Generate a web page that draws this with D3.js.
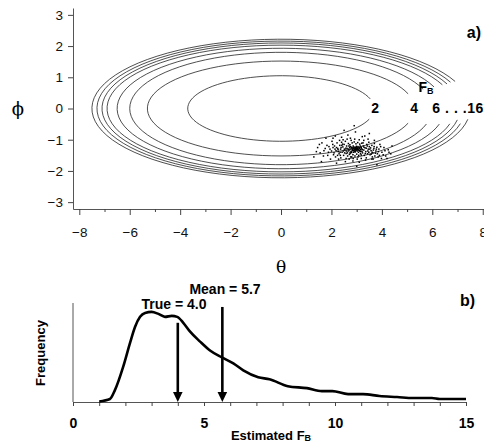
<!DOCTYPE html>
<html>
<head>
<meta charset="utf-8">
<script src="https://cdn.jsdelivr.net/npm/d3@7"></script>
<style>
  body { margin: 0; background: #fff; }
  svg { display: block; }
</style>
</head>
<body>
<div class="chart"></div>
<script>
// panel a) contour levels of F_B and their ellipse half-widths
var contourLevels = [2, 4, 6, 8, 10, 12, 14, 16];
var contourA = [3.7, 5.3, 6.0, 6.5, 6.9, 7.1, 7.3, 7.5];   // theta half-width
var contourB = [1.05, 1.52, 1.8, 1.93, 2.03, 2.1, 2.16, 2.22]; // phi half-height
var gapUpper = [17, 18, 20, 21, 22, 22, 23, 23]; // degrees, upper branch stops
var gapLower = [16, 15, 14, 12, 11, 10, 10, 9];  // degrees, lower branch starts

// scatter of estimates (theta, phi)
var scatterPts = [
  [2.62,-1.28],[2.70,-1.33],[2.75,-1.22],[2.78,-1.37],[2.81,-1.27],[2.84,-1.31],[2.86,-1.20],[2.88,-1.35],
  [2.90,-1.26],[2.92,-1.30],[2.94,-1.39],[2.96,-1.24],[2.98,-1.32],[3.00,-1.28],[3.02,-1.36],[3.05,-1.22],
  [3.08,-1.30],[3.10,-1.34],[3.13,-1.26],[3.16,-1.38],[3.19,-1.29],[2.66,-1.36],[2.72,-1.25],[2.80,-1.41],
  [2.87,-1.29],[2.91,-1.33],[2.95,-1.28],[2.99,-1.21],[3.03,-1.31],[3.07,-1.40],[3.11,-1.27],[3.15,-1.32],
  [2.68,-1.30],[2.77,-1.30],[2.83,-1.35],[2.89,-1.23],[2.93,-1.37],[2.97,-1.34],[3.01,-1.25],[3.06,-1.33],
  [3.12,-1.36],[3.18,-1.24],[2.74,-1.40],[2.85,-1.25],[2.95,-1.31],[3.04,-1.28],[2.79,-1.24],[2.88,-1.40],
  [3.09,-1.25],[3.22,-1.31],
  [2.12,-1.20],[2.18,-1.35],[2.22,-1.10],[2.25,-1.28],[2.30,-1.45],[2.33,-1.18],[2.36,-1.30],[2.40,-1.08],
  [2.42,-1.40],[2.45,-1.23],[2.48,-1.50],[2.50,-1.15],[2.53,-1.33],[2.55,-1.05],[2.58,-1.44],[2.60,-1.20],
  [2.64,-1.52],[2.67,-1.12],[2.71,-1.47],[2.73,-1.16],[2.76,-1.55],[2.82,-1.10],[2.85,-1.48],[2.90,-1.07],
  [2.93,-1.52],[2.97,-1.13],[3.00,-1.46],[3.04,-1.09],[3.08,-1.50],[3.12,-1.14],[3.15,-1.45],[3.20,-1.11],
  [3.23,-1.42],[3.26,-1.20],[3.30,-1.50],[3.33,-1.26],[3.36,-1.38],[3.40,-1.15],[3.43,-1.45],[3.46,-1.30],
  [3.50,-1.22],[3.53,-1.48],[3.57,-1.35],[3.60,-1.18],[3.64,-1.42],[3.68,-1.28],[3.72,-1.52],[3.76,-1.36],
  [3.80,-1.24],[2.27,-1.38],[2.38,-1.25],[2.47,-1.36],[2.57,-1.27],[2.63,-1.42],[3.28,-1.33],[3.38,-1.27],
  [3.48,-1.40],[3.55,-1.26],[3.66,-1.33],[3.74,-1.43],[2.20,-1.25],[2.52,-1.42],[3.18,-1.49],[3.42,-1.20],
  [2.44,-1.14],[3.58,-1.46],[2.35,-1.50],[3.05,-1.55],[2.80,-1.55],[3.25,-1.10],
  [1.45,-1.25],[1.55,-1.42],[1.62,-1.10],[1.70,-1.35],[1.78,-0.95],[1.85,-1.50],[1.90,-1.22],[1.96,-1.62],
  [2.02,-1.05],[2.08,-1.48],[2.15,-0.88],[2.28,-1.62],[2.40,-0.92],[2.55,-1.70],[2.65,-0.85],[2.85,-1.68],
  [2.95,-0.75],[3.10,-1.72],[3.22,-0.90],[3.35,-1.65],[3.45,-0.98],[3.60,-1.62],[3.70,-1.02],[3.85,-1.55],
  [3.92,-1.15],[4.00,-1.40],[4.08,-1.25],[4.15,-1.52],[4.25,-1.32],[4.35,-1.45],[2.90,-0.55],[2.50,-0.70],
  [1.30,-1.55],[3.00,-1.85],[2.20,-1.75],[3.80,-1.80],[4.40,-1.20],[1.60,-1.70],[2.75,-0.95],[3.50,-0.80],
  [1.75,-1.28],[1.82,-1.18],[1.88,-1.40],[1.94,-1.30],[2.00,-1.36],[2.05,-1.15],[2.10,-1.42],[2.14,-1.30],
  [2.24,-1.50],[2.32,-1.02],[2.37,-1.58],[2.46,-1.00],[2.58,-1.60],[2.62,-0.98],[2.70,-1.62],[2.78,-1.02],
  [2.86,-1.60],[2.92,-0.98],[3.02,-1.62],[3.10,-1.00],[3.18,-1.60],[3.28,-1.02],[3.38,-1.58],[3.48,-1.08],
  [3.62,-1.55],[3.70,-1.12],[3.82,-1.45],[3.88,-1.30],[3.95,-1.22],[4.05,-1.48],[4.12,-1.35],[4.20,-1.60],
  [4.28,-1.40],[3.98,-1.60],[3.65,-1.62],[1.68,-1.52],[1.52,-1.15],[1.40,-1.38],[2.06,-0.95],[3.32,-0.88],
  [2.26,-1.32],[2.34,-1.40],[2.41,-1.18],[2.51,-1.30],[2.59,-1.36],[2.69,-1.20],[2.74,-1.44],[3.14,-1.20],
  [3.21,-1.37],[3.29,-1.24],[3.34,-1.44],[3.44,-1.36],[3.52,-1.30],[3.61,-1.40],[3.69,-1.22],[3.78,-1.30],
  [3.86,-1.38],[2.16,-1.55],[3.90,-1.50],[2.06,-1.25]
];

// panel b) frequency of estimated F_B
var densX = [1.0, 1.41, 1.6, 1.92, 2.18, 2.37, 2.56, 2.75, 3.0, 3.26, 3.51, 3.77, 3.98, 4.21, 4.47, 4.85,
  5.23, 5.68, 6.12, 6.5, 7.07, 7.5, 8.2, 8.93, 9.5, 9.9, 10.5, 11.07, 11.7, 12.37, 12.98, 13.7, 14.0, 15.0];
var densY = [0.005, 0.03, 0.12, 0.36, 0.6, 0.76, 0.86, 0.9, 0.91, 0.89, 0.86, 0.87, 0.86, 0.8, 0.71, 0.61,
  0.52, 0.45, 0.39, 0.32, 0.25, 0.23, 0.16, 0.14, 0.11, 0.11, 0.08, 0.08, 0.06, 0.05, 0.04, 0.04, 0.03, 0.03];

var markerNames = ["True = 4.0", "Mean = 5.7"];
var markerValues = [4.0, 5.7];
var markerTops = [0.8, 0.96];

var thetaTicks = [-8, -6, -4, -2, 0, 2, 4, 6, 8];
var phiTicks = [-3, -2, -1, 0, 1, 2, 3];
var fbTicks = [0, 5, 10, 15];

var width = 484, height = 441;
var svg = d3.select(".chart").append("svg")
  .attr("width", width).attr("height", height)
  .style("font-family", "'Liberation Sans', Arial, sans-serif");

// ---------- panel a ----------
var x = d3.scaleLinear().domain([-8.25, 8.05]).range([73, 484]);
var y = d3.scaleLinear().domain([-3.22, 3.22]).range([209, 8]);

var gA = svg.append("g");

// axes
var yAxis = gA.append("g").attr("transform", "translate(73,0)")
  .call(d3.axisLeft(y).tickValues(phiTicks).tickSize(5).tickPadding(5).tickSizeOuter(0)
    .tickFormat(d3.format("d")));
var xAxis = gA.append("g").attr("transform", "translate(0,209)")
  .call(d3.axisBottom(x).tickValues(d3.range(-8, 9, 1)).tickSize(6).tickPadding(12).tickSizeOuter(0)
    .tickFormat(d => thetaTicks.includes(d) ? d3.format("d")(d) : ""));
xAxis.selectAll(".tick").filter(d => !thetaTicks.includes(d)).select("line").attr("y2", 3);
[yAxis, xAxis].forEach(function (ax) {
  ax.select(".domain").attr("stroke", "#555");
  ax.selectAll(".tick line").attr("stroke", "#444");
  ax.selectAll("text").attr("font-size", 13.5).attr("fill", "#111");
});

// contours
var line = d3.line().x(d => x(d[0])).y(d => y(d[1]));
contourLevels.forEach(function (lv, i) {
  var pts = d3.range(gapUpper[i], 360 - gapLower[i] + 0.1, 4).map(function (deg) {
    var t = deg * Math.PI / 180;
    return [contourA[i] * Math.cos(t), contourB[i] * Math.sin(t)];
  });
  gA.append("path").attr("d", line(pts))
    .attr("fill", "none").attr("stroke", "#222").attr("stroke-width", 0.8);
});

// scatter
gA.selectAll(".pt").data(scatterPts).enter().append("rect")
  .attr("class", "pt")
  .attr("x", d => x(d[0]) - 0.7).attr("y", d => y(d[1]) - 0.7)
  .attr("width", 1.5).attr("height", 1.5).attr("fill", "#000");

// contour labels
var lab = gA.append("g").attr("font-weight", "bold").attr("font-size", 14).attr("fill", "#000");
lab.append("text").attr("x", x(3.73)).attr("y", y(0)).attr("dy", "0.35em")
  .attr("text-anchor", "middle").text(contourLevels[0]);
lab.append("text").attr("x", x(5.28)).attr("y", y(0)).attr("dy", "0.35em")
  .attr("text-anchor", "middle").text(contourLevels[1]);
lab.append("text").attr("x", x(6.0)).attr("y", y(0)).attr("dy", "0.35em")
  .attr("textLength", 51).text(contourLevels[2] + " . . ." + contourLevels[7]);
var fb = lab.append("text").attr("x", x(5.45)).attr("y", y(0.52));
fb.append("tspan").text("F");
fb.append("tspan").attr("font-size", 9).attr("dy", 2).text("B");

gA.append("text").attr("x", 481).attr("y", 38).attr("text-anchor", "end")
  .attr("font-weight", "bold").attr("font-size", 16).text("a)");
gA.append("text").attr("x", 281).attr("y", 273).attr("text-anchor", "middle")
  .attr("font-family", "'DejaVu Serif', serif").attr("font-size", 17).text("θ");
gA.append("text").attr("x", 18).attr("y", 115).attr("text-anchor", "middle")
  .attr("font-family", "'DejaVu Serif', serif").attr("font-size", 18).text("ϕ");

// ---------- panel b ----------
var xb = d3.scaleLinear().domain([0, 15]).range([73, 466]);
var yb = d3.scaleLinear().domain([0, 1]).range([402, 303]);
var gB = svg.append("g");

gB.append("line").attr("x1", 73).attr("x2", 73).attr("y1", 303).attr("y2", 402)
  .attr("stroke", "#555");
var xbAxis = gB.append("g").attr("transform", "translate(0,402)")
  .call(d3.axisBottom(xb).tickValues(d3.range(0, 16, 1)).tickSize(4).tickPadding(12).tickSizeOuter(0)
    .tickFormat(d => fbTicks.includes(d) ? d : ""));
xbAxis.select(".domain").attr("stroke", "#555");
xbAxis.selectAll(".tick line").attr("stroke", "#444");
xbAxis.selectAll("text").attr("font-size", 14).attr("font-weight", "bold").attr("fill", "#000");

var dens = densX.map((d, i) => [d, densY[i]]);
gB.append("path")
  .attr("d", d3.line().x(d => xb(d[0])).y(d => yb(d[1])).curve(d3.curveMonotoneX)(dens))
  .attr("fill", "none").attr("stroke", "#000").attr("stroke-width", 2.6)
  .attr("stroke-linejoin", "round");

// arrows
markerValues.forEach(function (v, i) {
  var px = xb(v);
  gB.append("line").attr("x1", px).attr("x2", px)
    .attr("y1", yb(markerTops[i])).attr("y2", yb(0) - 8)
    .attr("stroke", "#000").attr("stroke-width", 2.6);
  gB.append("path")
    .attr("d", `M${px - 4.8},${yb(0) - 10}L${px + 4.8},${yb(0) - 10}L${px},${yb(0)}Z`)
    .attr("fill", "#000");
});
gB.append("text").attr("x", 174).attr("y", 309).attr("text-anchor", "middle")
  .attr("font-weight", "bold").attr("font-size", 14).text(markerNames[0]);
gB.append("text").attr("x", 225).attr("y", 294).attr("text-anchor", "middle")
  .attr("font-weight", "bold").attr("font-size", 14).text(markerNames[1]);

gB.append("text").attr("x", 475).attr("y", 306).attr("text-anchor", "end")
  .attr("font-weight", "bold").attr("font-size", 16).text("b)");

gB.append("text").attr("transform", "translate(45,353) rotate(-90)")
  .attr("text-anchor", "middle").attr("font-weight", "bold").attr("font-size", 13).text("Frequency");

var xl = gB.append("text").attr("x", 271).attr("y", 440).attr("text-anchor", "middle")
  .attr("font-weight", "bold").attr("font-size", 13);
xl.append("tspan").text("Estimated F");
xl.append("tspan").attr("font-size", 9).attr("dy", 1).text("B");
</script>
</body>
</html>
